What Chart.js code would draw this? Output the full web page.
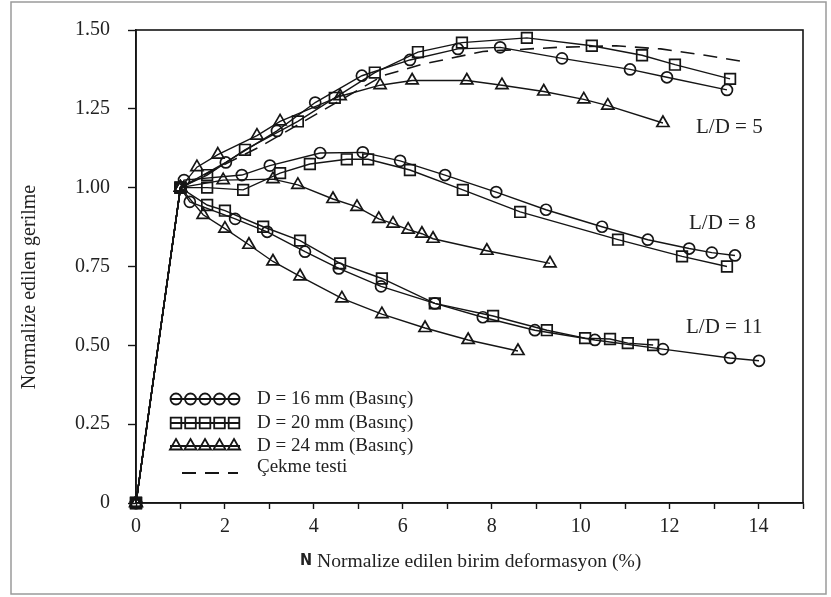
<!DOCTYPE html>
<html>
<head>
<meta charset="utf-8">
<script src="https://cdn.jsdelivr.net/npm/chart.js@4/dist/chart.umd.min.js"></script>
<style>
  html, body { margin: 0; padding: 0; background: #fff; }
</style>
</head>
<body>
<canvas id="chart" width="831" height="597"></canvas>
<script>
// 軸の目盛り
const X_MIN = 0, X_MAX = 15;
const Y_MIN = 0, Y_MAX = 1.5;

// 各シリーズ [x, y] (L/D = 5)
const d16_ld5 = [[0,0],[1,1],[2.02,1.08],[3.17,1.18],[4.03,1.27],[5.08,1.355],[6.16,1.405],[7.24,1.44],[8.19,1.445],[9.58,1.41],[11.11,1.375],[11.94,1.35],[13.29,1.31]];
const d20_ld5 = [[0,0],[1,1],[1.6,1.04],[2.45,1.12],[3.64,1.21],[4.47,1.285],[5.37,1.365],[6.34,1.43],[7.33,1.46],[8.79,1.475],[10.25,1.45],[11.38,1.42],[12.12,1.39],[13.36,1.345]];
const d24_ld5 = [[0,0],[1,1],[1.37,1.065],[1.84,1.105],[2.72,1.165],[3.24,1.21],[4.59,1.29],[5.49,1.325],[6.21,1.34],[7.44,1.34],[8.23,1.325],[9.17,1.305],[10.07,1.28],[10.61,1.26],[11.85,1.205]];

// L/D = 8
const d16_ld8 = [[0,0],[1,1],[1.08,1.024],[2.38,1.04],[3.01,1.07],[4.14,1.11],[5.1,1.112],[5.94,1.085],[6.95,1.04],[8.1,0.986],[9.22,0.93],[10.48,0.876],[11.51,0.835],[12.44,0.807],[12.95,0.794],[13.47,0.785]];
const d20_ld8 = [[0,0],[1,1],[1.6,1.0],[2.41,0.993],[3.24,1.046],[3.91,1.075],[4.74,1.09],[5.22,1.09],[6.16,1.056],[7.35,0.993],[8.64,0.923],[10.84,0.835],[12.28,0.782],[13.29,0.75]];
const d24_ld8 = [[0,0],[1,1],[1.96,1.024],[3.08,1.027],[3.64,1.009],[4.43,0.964],[4.97,0.939],[5.46,0.901],[5.78,0.886],[6.12,0.867],[6.43,0.854],[6.68,0.838],[7.89,0.80],[9.31,0.76]];

// L/D = 11
const d16_ld11 = [[0,0],[1,1],[1.21,0.955],[2.23,0.901],[2.95,0.86],[3.8,0.797],[4.56,0.744],[5.51,0.687],[6.72,0.633],[7.8,0.589],[8.97,0.548],[10.32,0.517],[11.85,0.488],[13.36,0.46],[14.01,0.451]];
const d20_ld11 = [[0,0],[1,1],[1.6,0.945],[2.0,0.927],[2.86,0.876],[3.69,0.832],[4.59,0.76],[5.53,0.712],[6.72,0.633],[8.03,0.593],[9.24,0.548],[10.1,0.523],[10.66,0.52],[11.06,0.507],[11.63,0.501]];
const d24_ld11 = [[0,0],[1,1],[1.51,0.914],[2.0,0.87],[2.54,0.819],[3.08,0.766],[3.69,0.719],[4.63,0.649],[5.53,0.599],[6.5,0.555],[7.47,0.517],[8.59,0.482]];

// 引張試験 (破線)
const cekme = [[0,0],[1,1],[1.8,1.06],[2.79,1.13],[4.14,1.24],[5.55,1.355],[6.4,1.39],[7.8,1.432],[9.5,1.445],[10.8,1.45],[11.8,1.44],[12.8,1.42],[13.65,1.40]];

// 凡例の文字
const LEGEND_LABELS = ['D = 16 mm (Basınç)', 'D = 20 mm (Basınç)', 'D = 24 mm (Basınç)', 'Çekme testi'];
const LD_LABELS = ['L/D = 5', 'L/D = 8', 'L/D = 11'];
const X_TITLE = 'Normalize edilen birim deformasyon (%)';
const Y_TITLE = 'Normalize edilen gerilme';

const INK = '#151515';
const SERIF = '"Liberation Serif", "Times New Roman", serif';

// マーカーの大きさ
const MARK = {
  circle: 5.5,
  rect: 7.5,
  triangle: 7,
};

function toPoints(pairs) {
  return pairs.map(function(p) { return { x: p[0], y: p[1] }; });
}

function series(pairs, style) {
  return {
    data: toPoints(pairs),
    showLine: true,
    borderColor: INK,
    borderWidth: 1.4,
    pointStyle: style,
    pointRadius: MARK[style],
    pointBorderWidth: 1.7,
    pointBorderColor: INK,
    pointBackgroundColor: 'rgba(0,0,0,0)',
    clip: false,
  };
}

// 凡例用マーカー
function drawMarker(ctx, style, x, y) {
  const r = MARK[style];
  ctx.beginPath();
  if (style === 'circle') {
    ctx.arc(x, y, r, 0, Math.PI * 2);
  } else if (style === 'rect') {
    const s = Math.SQRT1_2 * r;
    ctx.rect(x - s, y - s, s * 2, s * 2);
  } else {
    let rad = 0;
    ctx.moveTo(x + Math.sin(rad) * r, y - Math.cos(rad) * r);
    rad += Math.PI * 2 / 3;
    ctx.lineTo(x + Math.sin(rad) * r, y - Math.cos(rad) * r);
    rad += Math.PI * 2 / 3;
    ctx.lineTo(x + Math.sin(rad) * r, y - Math.cos(rad) * r);
    ctx.closePath();
  }
  ctx.stroke();
}

const figureText = {
  id: 'figureText',
  beforeDatasetsDraw(chart) {
    const ctx = chart.ctx;
    const a = chart.chartArea;
    ctx.save();
    ctx.strokeStyle = INK;
    ctx.lineWidth = 1.6;
    ctx.strokeRect(a.left, a.top, a.right - a.left, a.bottom - a.top);
    ctx.restore();
  },
  afterDraw(chart) {
    const ctx = chart.ctx;
    ctx.save();

    // 外枠
    ctx.strokeStyle = '#9a9a9a';
    ctx.lineWidth = 1.5;
    ctx.strokeRect(11, 2, 815, 592);

    ctx.fillStyle = '#222';
    ctx.textBaseline = 'middle';

    // 軸タイトル
    ctx.font = '19.6px ' + SERIF;
    ctx.textAlign = 'left';
    ctx.fillText(X_TITLE, 317, 562);
    ctx.font = 'bold 16px "DejaVu Sans Condensed", "DejaVu Sans", sans-serif';
    ctx.fillText('N', 300, 561);

    ctx.font = '20px ' + SERIF;
    ctx.save();
    ctx.translate(30, 287);
    ctx.rotate(-Math.PI / 2);
    ctx.textAlign = 'center';
    ctx.fillText(Y_TITLE, 0, 0);
    ctx.restore();

    // L/D ラベル
    ctx.font = '21px ' + SERIF;
    ctx.textAlign = 'left';
    ctx.fillText(LD_LABELS[0], 696, 127);
    ctx.fillText(LD_LABELS[1], 689, 223);
    ctx.fillText(LD_LABELS[2], 686, 327);

    // 凡例
    const rows = [399, 423, 446];
    const styles = ['circle', 'rect', 'triangle'];
    ctx.strokeStyle = INK;
    rows.forEach(function(y, i) {
      ctx.lineWidth = 1.8;
      ctx.beginPath();
      ctx.moveTo(170, y);
      ctx.lineTo(240, y);
      ctx.stroke();
      for (let k = 0; k < 5; k++) {
        drawMarker(ctx, styles[i], 176 + k * 14.5, y);
      }
      ctx.font = '19px ' + SERIF;
      ctx.fillText(LEGEND_LABELS[i], 257, y);
    });
    ctx.lineWidth = 1.8;
    ctx.setLineDash([14, 9]);
    ctx.beginPath();
    ctx.moveTo(182, 473);
    ctx.lineTo(238, 473);
    ctx.stroke();
    ctx.setLineDash([]);
    ctx.fillText(LEGEND_LABELS[3], 257, 467);

    ctx.restore();
  },
};

const cekmeSet = {
  data: toPoints(cekme),
  showLine: true,
  borderColor: INK,
  borderWidth: 1.6,
  borderDash: [14, 9],
  pointRadius: 0,
  clip: false,
};

new Chart(document.getElementById('chart'), {
  type: 'scatter',
  data: {
    datasets: [
      cekmeSet,
      series(d16_ld5, 'circle'),
      series(d20_ld5, 'rect'),
      series(d24_ld5, 'triangle'),
      series(d16_ld8, 'circle'),
      series(d20_ld8, 'rect'),
      series(d24_ld8, 'triangle'),
      series(d16_ld11, 'circle'),
      series(d20_ld11, 'rect'),
      series(d24_ld11, 'triangle'),
    ],
  },
  options: {
    responsive: false,
    animation: false,
    devicePixelRatio: 1,
    layout: {
      padding: { left: 0, top: 27, right: 28, bottom: 0 },
    },
    plugins: {
      legend: { display: false },
      tooltip: { enabled: false },
    },
    scales: {
      x: {
        type: 'linear',
        min: X_MIN,
        max: X_MAX,
        afterFit: function(scale) { scale.height = 94; },
        grid: {
          drawOnChartArea: false,
          drawTicks: true,
          tickLength: 6,
          tickColor: INK,
          tickWidth: 1.4,
        },
        border: { display: true, color: INK, width: 1.6 },
        ticks: {
          stepSize: 1,
          autoSkip: false,
          maxRotation: 0,
          padding: 6,
          color: '#222',
          font: { family: SERIF, size: 20 },
          callback: function(v) { return v % 2 === 0 && v <= 14 ? String(v) : ''; },
        },
      },
      y: {
        type: 'linear',
        min: Y_MIN,
        max: Y_MAX,
        afterFit: function(scale) { scale.width = 136; },
        grid: {
          drawOnChartArea: false,
          drawTicks: true,
          tickLength: 8,
          tickColor: INK,
          tickWidth: 1.4,
        },
        border: { display: true, color: INK, width: 1.6 },
        ticks: {
          stepSize: 0.25,
          padding: 18,
          color: '#222',
          font: { family: SERIF, size: 20 },
          callback: function(v) { return v === 0 ? '0' : v.toFixed(2); },
        },
      },
    },
  },
  plugins: [figureText],
});
</script>
</body>
</html>
